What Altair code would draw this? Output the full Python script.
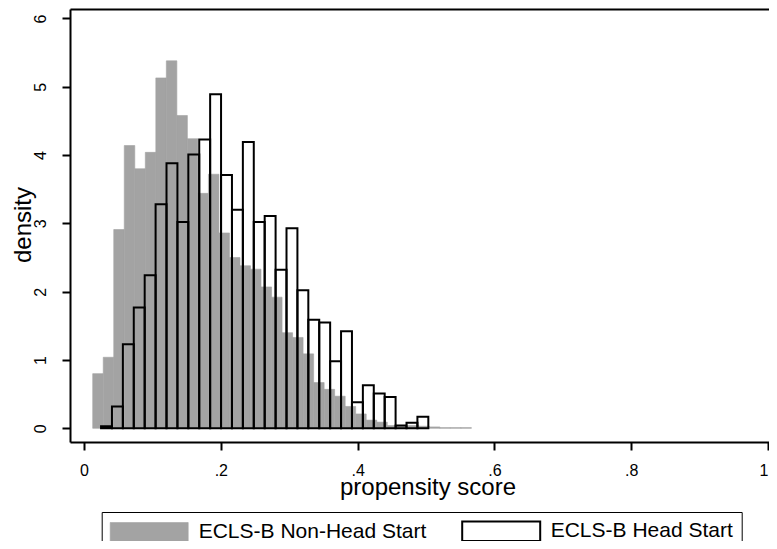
import altair as alt
import pandas as pd

series_names = ["ECLS-B Non-Head Start", "ECLS-B Head Start"]

# Non-Head Start histogram (gray), 36 bins
gray_start = 0.0127
gray_width = 0.01538
gray_density = [0.80, 1.04, 2.91, 4.14, 3.80, 4.04, 5.13, 5.38, 4.58, 4.24,
                3.44, 3.72, 2.86, 2.50, 2.38, 2.33, 2.07, 1.92, 1.40, 1.33,
                1.09, 0.67, 0.57, 0.47, 0.32, 0.21, 0.12, 0.09, 0.04, 0.03,
                0.04, 0.03, 0.02, 0.01, 0.01, 0.01]

# Head Start histogram (outlined), 30 bins
hs_start = 0.0249
hs_width = 0.01595
hs_density = [0.03, 0.32, 1.23, 1.77, 2.24, 3.28, 3.88, 3.02, 4.01, 4.23,
              4.89, 3.71, 3.20, 4.19, 3.02, 3.11, 2.32, 2.93, 2.02, 1.59,
              1.55, 0.98, 1.42, 0.38, 0.63, 0.51, 0.46, 0.04, 0.08, 0.17]

x_ticks = [0, 0.2, 0.4, 0.6, 0.8, 1]
y_ticks = [0, 1, 2, 3, 4, 5, 6]

rows = []
for i, h in enumerate(gray_density):
    rows.append({"series": series_names[0], "x0": gray_start + i * gray_width,
                 "x1": gray_start + (i + 1) * gray_width, "density": h, "base": 0.0})
for i, h in enumerate(hs_density):
    rows.append({"series": series_names[1], "x0": hs_start + i * hs_width,
                 "x1": hs_start + (i + 1) * hs_width, "density": h, "base": 0.0})
df = pd.DataFrame(rows)

FONT = "Liberation Sans"
GRAY = "#a3a3a3"
# plot area: 699 px wide starting at page x=70; x=0 at page 84, 684 px per unit
xscale = alt.Scale(domain=[-0.0205, 1.0015], nice=False, zero=False)
yscale = alt.Scale(domain=[-0.2006, 6.139], nice=False, zero=False)

legend = alt.Legend(
    title=None, orient="none", legendX=31.7, legendY=503,
    direction="horizontal", columns=2,
    symbolType="M-4,-1H4V1H-4Z", symbolSize=380.25, symbolStrokeWidth=1.5,
    symbolOffset=28.5,
    labelFont=FONT, labelFontSize=21, labelColor="black", labelLimit=500,
    labelOffset=38.5, columnPadding=31, padding=8,
    strokeColor="black", fillColor="white",
)

x_axis = alt.Axis(
    values=x_ticks, orient="bottom",
    labelExpr="datum.value == 0 ? '0' : (datum.value == 1 ? '1' : '.' + format(datum.value * 10, 'd'))",
    tickSize=8, tickWidth=2, tickColor="black", domainColor="black", domainWidth=2,
    labelFont=FONT, labelFontSize=16, labelColor="black", labelPadding=12,
    labelBaseline="top", labelFlush=False, labelOverlap=False,
    labelAlign={"condition": {"test": "datum.value == 1", "value": "right"}, "value": "center"},
    title="propensity score", titleFont=FONT, titleFontSize=24, titleFontWeight="normal",
    titleColor="black", titleX=357.5, titleY=52.5, titleAlign="center", titleBaseline="alphabetic",
    grid=False,
)

y_axis = alt.Axis(
    values=y_ticks, orient="left", format="d",
    tickSize=8, tickWidth=2, tickColor="black", domainColor="black", domainWidth=2,
    labelFont=FONT, labelFontSize=16, labelColor="black", labelPadding=17,
    labelAngle=270, labelAlign="center", labelBaseline="alphabetic",
    labelFlush=False, labelOverlap=False,
    title="density", titleFont=FONT, titleFontSize=24, titleFontWeight="normal",
    titleColor="black", titleAngle=270, titleX=-40, titleY=215.5,
    titleAlign="center", titleBaseline="alphabetic",
    grid=False,
)

bars = alt.Chart(df).mark_bar(strokeJoin="miter").encode(
    x=alt.X("x0:Q", scale=xscale, axis=x_axis),
    x2="x1:Q",
    y=alt.Y("density:Q", scale=yscale, axis=y_axis),
    y2="base:Q",
    fill=alt.Fill("series:N",
                  scale=alt.Scale(domain=series_names, range=[GRAY, "transparent"]),
                  legend=legend),
    stroke=alt.Stroke("series:N",
                      scale=alt.Scale(domain=series_names, range=[GRAY, "#000000"]),
                      legend=legend),
    strokeWidth=alt.StrokeWidth("series:N",
                                scale=alt.Scale(domain=series_names, range=[0.6, 2]),
                                legend=None),
)

top_border = alt.Chart(df).mark_rule(opacity=0).encode(
    x=alt.X("x0:Q", scale=xscale,
            axis=alt.Axis(orient="top", labels=False, ticks=False, title=None,
                          domainColor="black", domainWidth=2, grid=False)),
)

chart = alt.layer(bars, top_border).resolve_axis(x="independent").properties(
    width=699, height=433,
    padding={"left": 62, "top": 1, "right": 0, "bottom": 99},
    autosize=alt.AutoSizeParams(type="none"),
    background="white",
).configure_view(stroke=None)

chart.save("out.html", embed_options={"renderer": "svg", "actions": False})
